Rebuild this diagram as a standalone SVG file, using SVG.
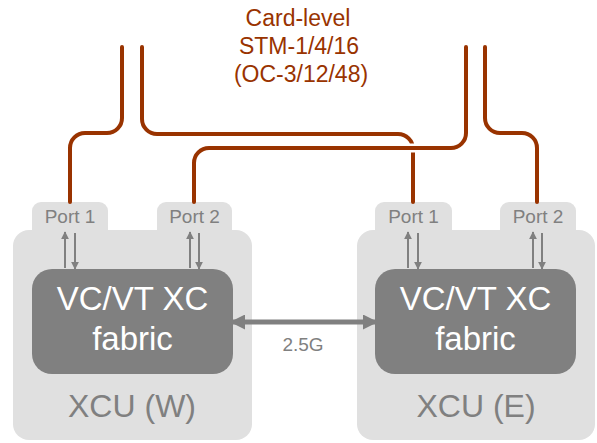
<svg xmlns="http://www.w3.org/2000/svg" width="597" height="443" viewBox="0 0 597 443">
<style>
.card{fill:#E0E0E0}
.fab{fill:#808080}
.port{font-family:"Liberation Sans",Arial,sans-serif;font-size:19px;fill:#808080;text-anchor:middle}
.fabt{font-family:"Liberation Sans",Arial,sans-serif;font-size:33px;fill:#FFFFFF;text-anchor:middle}
.xcu{font-family:"Liberation Sans",Arial,sans-serif;font-size:32px;fill:#808080;text-anchor:middle}
.title{font-family:"Liberation Sans",Arial,sans-serif;font-size:23px;fill:#993300;text-anchor:middle}
.fib{fill:none;stroke:#993300;stroke-width:4;stroke-linecap:round}
.halo{fill:none;stroke:#FFFFFF;stroke-width:9}
.small{stroke:#808080;stroke-width:2;fill:none}
.big{stroke:#808080;stroke-width:5;fill:none}
</style>
<defs>
<marker id="ah" viewBox="0 0 10 10" refX="9" refY="5" markerWidth="4" markerHeight="4" orient="auto-start-reverse" markerUnits="strokeWidth">
<path d="M0,0 L10,5 L0,10 z" fill="#808080"/>
</marker>
<marker id="ahb" viewBox="0 0 10 10" refX="8" refY="5" markerWidth="3" markerHeight="3" orient="auto-start-reverse" markerUnits="strokeWidth">
<path d="M0,0 L10,5 L0,10 z" fill="#808080"/>
</marker>
</defs>

<g id="title">
<text class="title" x="298" y="26">Card-level</text>
<text class="title" x="299" y="54">STM-1/4/16</text>
<text class="title" x="301" y="82">(OC-3/12/48)</text>
</g>

<g id="xcu-w">
<rect class="card" x="32" y="202" width="76" height="40" rx="9"/>
<rect class="card" x="157" y="202" width="75" height="40" rx="9"/>
<rect class="card" x="13" y="230" width="239" height="210" rx="16"/>
<text class="port" x="70" y="223">Port 1</text>
<text class="port" x="194.5" y="223">Port 2</text>
<rect class="fab" x="32" y="269" width="201" height="105" rx="20"/>
<text class="fabt" x="132.5" y="310">VC/VT XC</text>
<text class="fabt" x="132.5" y="350">fabric</text>
<text class="xcu" x="132" y="417">XCU (W)</text>
</g>

<g id="xcu-e">
<rect class="card" x="375" y="202" width="77" height="40" rx="9"/>
<rect class="card" x="500" y="202" width="76" height="40" rx="9"/>
<rect class="card" x="357" y="230" width="238" height="210" rx="16"/>
<text class="port" x="413.5" y="223">Port 1</text>
<text class="port" x="538" y="223">Port 2</text>
<rect class="fab" x="375" y="269" width="201" height="105" rx="20"/>
<text class="fabt" x="475.5" y="310">VC/VT XC</text>
<text class="fabt" x="475.5" y="350">fabric</text>
<text class="xcu" x="476" y="417">XCU (E)</text>
</g>

<g id="connectors">
<path class="fib" d="M122,47 V118 A15,15 0 0 1 107,133 H85 A15,15 0 0 0 70,148 V202"/>
<path class="fib" d="M142,47 V119 A15,15 0 0 0 157,134 H398 A15,15 0 0 1 413,149 V202"/>
<path class="halo" d="M466,47 V133 A15,15 0 0 1 451,148 H209 A15,15 0 0 0 194,163 V202"/>
<path class="fib" d="M466,47 V133 A15,15 0 0 1 451,148 H209 A15,15 0 0 0 194,163 V202"/>
<path class="fib" d="M485,47 V118 A15,15 0 0 0 500,133 H522 A15,15 0 0 1 537,148 V202"/>

<line class="small" x1="65" y1="268" x2="65" y2="232" marker-end="url(#ah)"/>
<line class="small" x1="75" y1="233" x2="75" y2="269" marker-end="url(#ah)"/>
<line class="small" x1="190" y1="268" x2="190" y2="232" marker-end="url(#ah)"/>
<line class="small" x1="199" y1="233" x2="199" y2="269" marker-end="url(#ah)"/>
<line class="small" x1="408" y1="268" x2="408" y2="232" marker-end="url(#ah)"/>
<line class="small" x1="418" y1="233" x2="418" y2="269" marker-end="url(#ah)"/>
<line class="small" x1="533" y1="268" x2="533" y2="232" marker-end="url(#ah)"/>
<line class="small" x1="542" y1="233" x2="542" y2="269" marker-end="url(#ah)"/>

<line class="big" x1="233" y1="322" x2="375" y2="322" marker-start="url(#ahb)" marker-end="url(#ahb)"/>
<text x="303" y="351" font-family="'Liberation Sans',Arial,sans-serif" font-size="19" fill="#808080" text-anchor="middle">2.5G</text>
</g>
</svg>
